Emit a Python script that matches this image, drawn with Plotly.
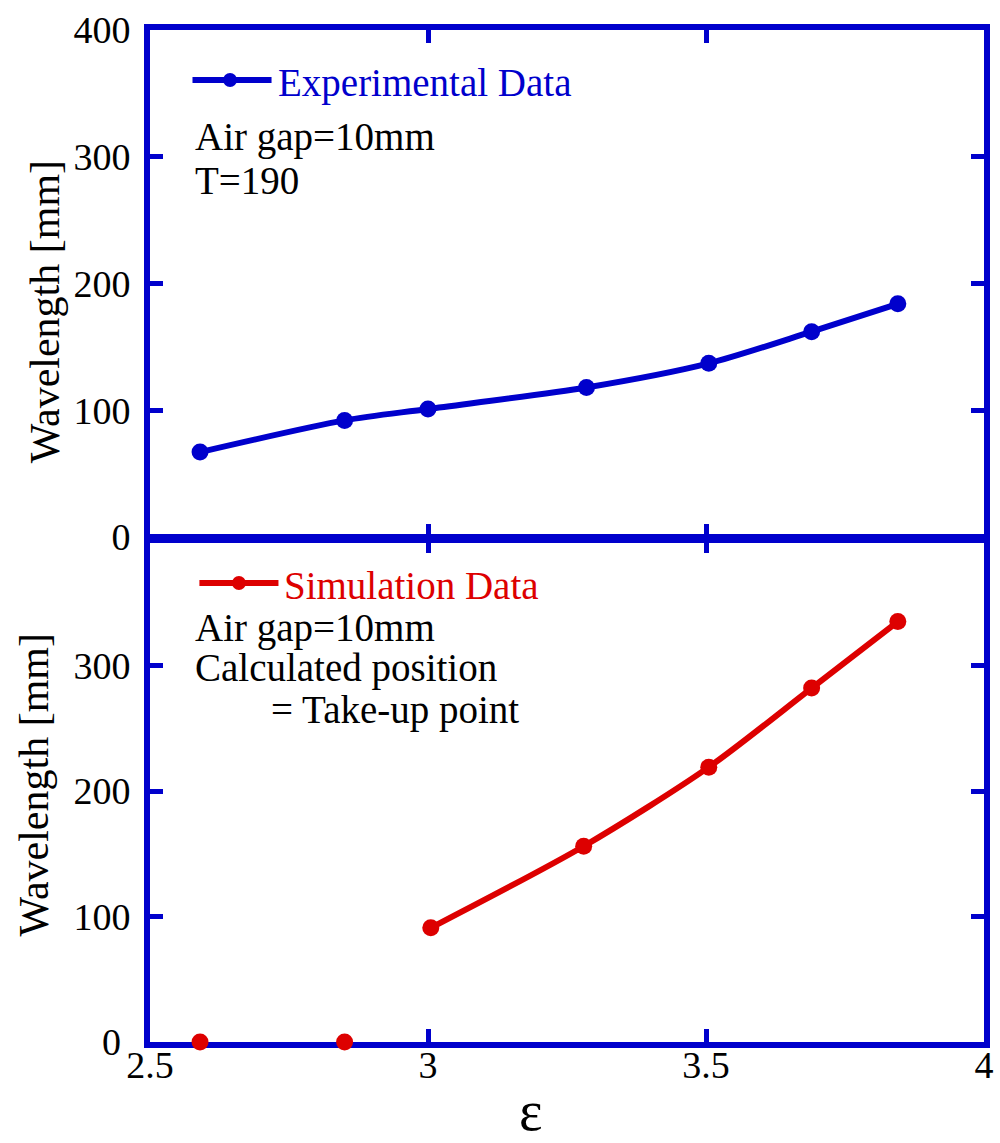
import plotly.graph_objects as go
from plotly.subplots import make_subplots

# ---- data ----
eps_exp = [2.59, 2.85, 3.00, 3.285, 3.505, 3.69, 3.845]
wl_exp = [67, 92, 101, 118, 137, 162, 184]

eps_sim = [2.59, 2.85, 3.005, 3.28, 3.505, 3.69, 3.845]
wl_sim = [0, 0, 91, 156, 219, 282, 335]

x_ticks = [2.5, 3, 3.5, 4]
x_ticklabels = ["2.5", "3", "3.5", "4"]
y_ticks_top = [0, 100, 200, 300, 400]
y_ticklabels_top = ["0", "100", "200", "300", "400"]
y_ticks_bot = [0, 100, 200, 300]
y_ticklabels_bot = ["0\u00a0", "100", "200", "300"]

BLUE = "#0000CC"
RED = "#DD0000"
FONT = "Times New Roman, Liberation Serif, serif"

W, H = 1000, 1143
L, R, T, B = 150, 6, 30, 101
PW, PH = W - L - R, H - T - B


def px(x):
    return (x - L) / PW


def py(y):
    return (H - B - y) / PH


fig = make_subplots(rows=2, cols=1, shared_xaxes=False, vertical_spacing=0.0)

# top: experimental
fig.add_trace(go.Scatter(x=eps_exp, y=wl_exp, mode="lines+markers",
                         line=dict(color=BLUE, width=6, shape="spline", smoothing=0.8),
                         marker=dict(color=BLUE, size=17), showlegend=False,
                         cliponaxis=False), row=1, col=1)

# bottom: simulation (line only where a wavelength was computed)
line_x = [x for x, y in zip(eps_sim, wl_sim) if y > 0]
line_y = [y for y in wl_sim if y > 0]
fig.add_trace(go.Scatter(x=line_x, y=line_y, mode="lines",
                         line=dict(color=RED, width=6, shape="spline", smoothing=0.8),
                         showlegend=False, cliponaxis=False), row=2, col=1)
fig.add_trace(go.Scatter(x=eps_sim, y=wl_sim, mode="markers",
                         marker=dict(color=RED, size=17), showlegend=False,
                         cliponaxis=False), row=2, col=1)

axis_common = dict(showline=True, linecolor=BLUE, linewidth=6, mirror="ticks",
                   ticks="inside", ticklen=13, tickwidth=5, tickcolor=BLUE,
                   showgrid=False, zeroline=False, layer="below traces",
                   tickfont=dict(family=FONT, size=38, color="black"))

fig.update_xaxes(range=[2.5, 4], tickvals=x_ticks, ticktext=x_ticklabels,
                 ticklabelstandoff=-16, **axis_common)
fig.update_xaxes(showticklabels=False, row=1, col=1)
fig.update_yaxes(range=[0, 400], ticklabelstandoff=6, **axis_common)
fig.update_yaxes(tickvals=y_ticks_top, ticktext=y_ticklabels_top, row=1, col=1)
fig.update_yaxes(tickvals=y_ticks_bot, ticktext=y_ticklabels_bot, row=2, col=1)

fig.update_layout(
    width=W, height=H,
    margin=dict(l=L, r=R, t=T, b=B),
    plot_bgcolor="white", paper_bgcolor="white",
    font=dict(family=FONT, color="black"),
    xaxis=dict(domain=[0, 1]), xaxis2=dict(domain=[0, 1]),
    yaxis=dict(domain=[py(537), 1]),
    yaxis2=dict(domain=[0, py(540)]),
)

shapes = []
annots = []


def legend_item(x0, x1, y, xm, color, text, tx):
    shapes.append(dict(type="line", xref="paper", yref="paper", x0=px(x0), x1=px(x1),
                       y0=py(y), y1=py(y), line=dict(color=color, width=6)))
    shapes.append(dict(type="circle", xref="paper", yref="paper",
                       x0=px(xm - 7), x1=px(xm + 7), y0=py(y - 7), y1=py(y + 7),
                       fillcolor=color, line=dict(color=color, width=0)))
    annots.append(dict(text=text, xref="paper", yref="paper", x=px(tx), y=py(y + 3),
                       xanchor="left", yanchor="middle", showarrow=False,
                       font=dict(family=FONT, size=39, color=color)))


def label(text, x, y, size=39, angle=0, anchor="left", **kw):
    annots.append(dict(text=text, xref="paper", yref="paper", x=px(x), y=py(y),
                       xanchor=anchor, yanchor="middle", showarrow=False, textangle=angle,
                       font=dict(family=FONT, size=size, color="black"), **kw))


legend_item(193, 273, 80, 231, BLUE, "Experimental Data", 278)
label("Air gap=10mm", 194, 137)
label("T=190", 194, 180)

legend_item(200, 280, 583, 240, RED, "Simulation Data", 284)
label("Air gap=10mm", 194, 628)
label("Calculated position", 194, 668)
label("= Take-up point", 270, 710)

# axis titles
label("Wavelength [mm]", 44, 312, size=42, angle=-90, anchor="center")
label("Wavelength [mm]", 33, 785, size=42, angle=-90, anchor="center")
label("ε", 536, 1111, size=56, anchor="center")

fig.update_layout(shapes=shapes, annotations=annots)

fig.write_html("out.html", config={"displayModeBar": False},
               post_script="document.body.style.margin='0';document.body.style.padding='0';"
                           "document.body.style.overflow='hidden';")
